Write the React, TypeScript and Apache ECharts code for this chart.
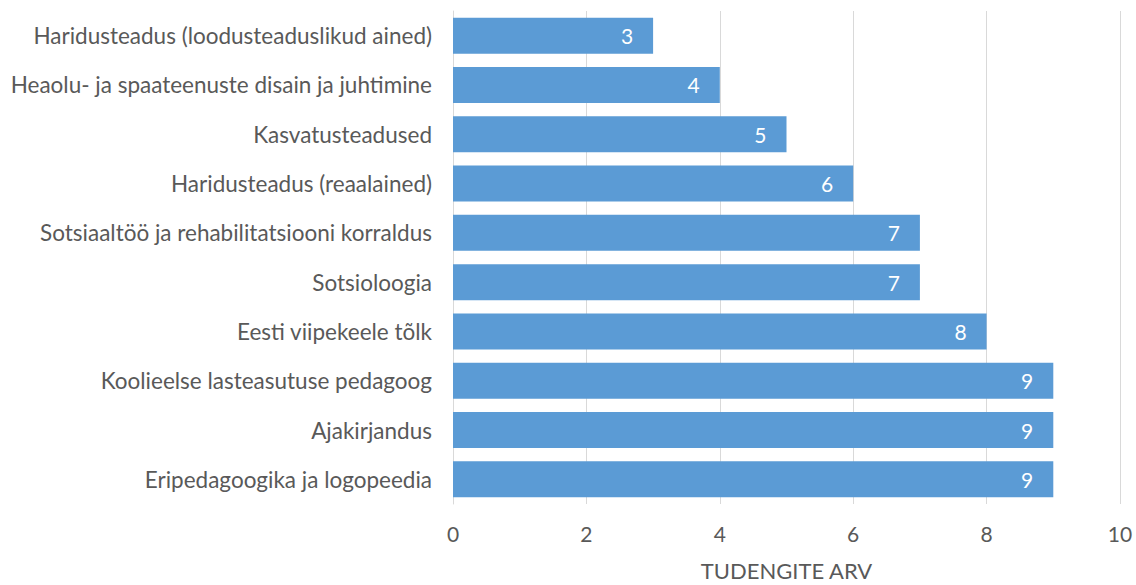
import React, { useEffect, useRef } from "react";
import * as echarts from "echarts";

const categories = [
  "Haridusteadus (loodusteaduslikud ained)",
  "Heaolu- ja spaateenuste disain ja juhtimine",
  "Kasvatusteadused",
  "Haridusteadus (reaalained)",
  "Sotsiaaltöö ja rehabilitatsiooni korraldus",
  "Sotsioloogia",
  "Eesti viipekeele tõlk",
  "Koolieelse lasteasutuse pedagoog",
  "Ajakirjandus",
  "Eripedagoogika ja logopeedia",
];
const values = [3, 4, 5, 6, 7, 7, 8, 9, 9, 9];
const axisName = "TUDENGITE ARV";

const FONT = "Lato, 'Open Sans', sans-serif";
const TEXT = "#595959";

export default function App() {
  const ref = useRef<HTMLDivElement>(null);
  useEffect(() => {
    if (!ref.current) return;
    const chart = echarts.init(ref.current, null, { renderer: "svg" });
    chart.setOption({
      animation: false,
      grid: {
        left: 453,
        right: 16,
        top: 11,
        bottom: 81,
        containLabel: false,
        outerBoundsMode: "none",
      },
      xAxis: {
        type: "value",
        min: 0,
        max: 10,
        interval: 2,
        name: axisName,
        nameLocation: "middle",
        nameGap: 55,
        nameTextStyle: { fontSize: 22, color: TEXT, fontFamily: FONT },
        axisLabel: { fontSize: 21, color: TEXT, fontFamily: FONT, margin: 19 },
        axisLine: { show: false },
        axisTick: { show: false },
        splitLine: { show: true, lineStyle: { color: "#d9d9d9", width: 1 } },
      },
      yAxis: {
        type: "category",
        data: categories,
        inverse: true,
        axisLabel: { fontSize: 22.5, color: TEXT, fontFamily: FONT, margin: 21 },
        axisLine: { show: true, lineStyle: { color: "#d9d9d9" } },
        axisTick: { show: false },
      },
      series: [
        {
          type: "bar",
          data: values,
          barWidth: 36,
          itemStyle: { color: "#5B9BD5" },
          label: {
            show: true,
            position: "insideRight",
            distance: 20,
            color: "#ffffff",
            fontSize: 21,
            fontFamily: FONT,
          },
        },
      ],
    });
    return () => chart.dispose();
  }, []);
  return (
    <div
      ref={ref}
      style={{ position: "absolute", left: 0, top: 0, width: 1136, height: 585, background: "#fff" }}
    />
  );
}
